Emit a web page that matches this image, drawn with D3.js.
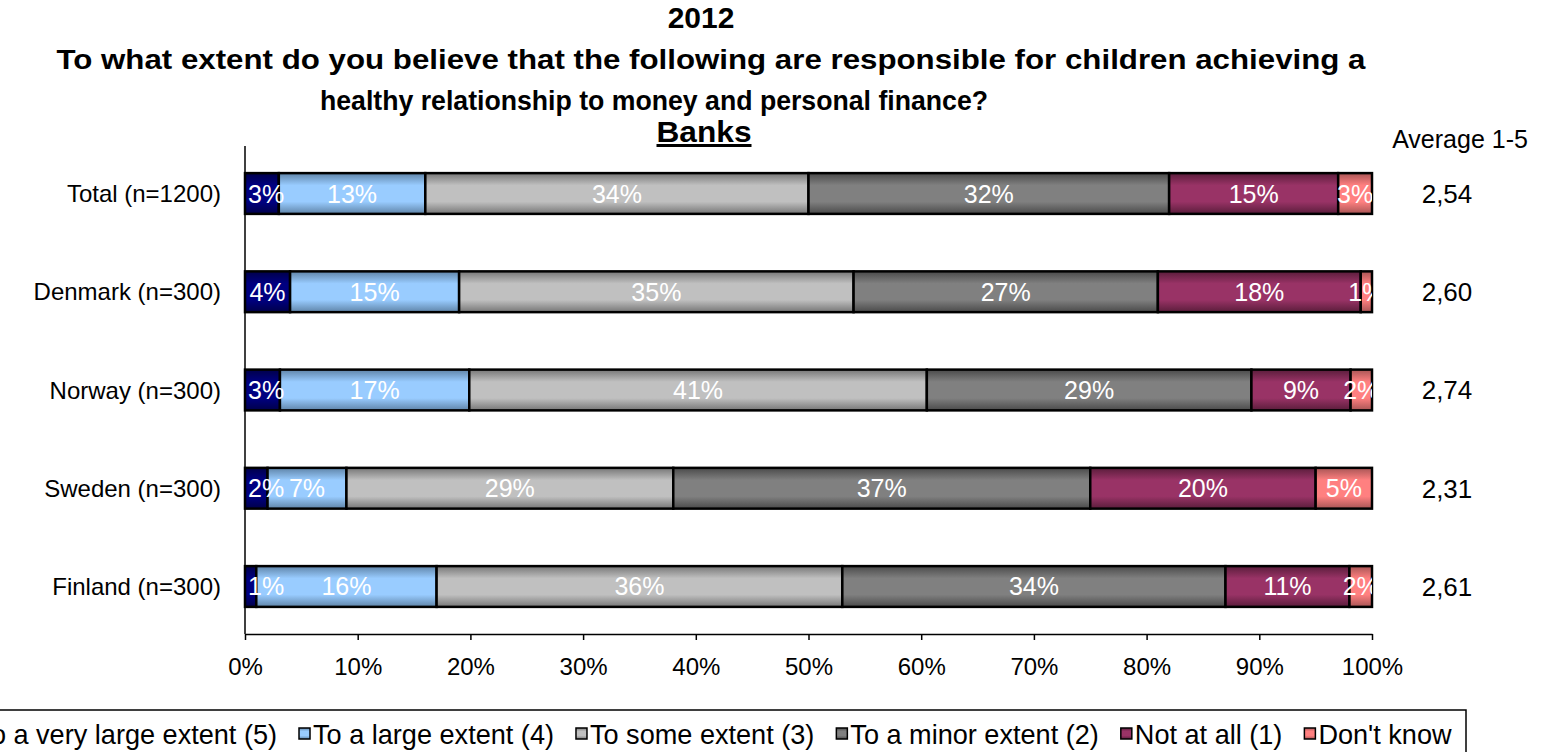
<!DOCTYPE html>
<html>
<head>
<meta charset="utf-8">
<script src="https://cdn.jsdelivr.net/npm/d3@7"></script>
<style>
  html, body { margin: 0; padding: 0; background: #fff; }
  svg { display: block; font-family: "Liberation Sans", Arial, sans-serif; }
</style>
</head>
<body>
<svg id="chart" width="1544" height="752"></svg>
<script>
// Survey answers per country, share of respondents in each answer group
const categories = ["Total (n=1200)", "Denmark (n=300)", "Norway (n=300)", "Sweden (n=300)", "Finland (n=300)"];
const seriesNames = ["To a very large extent (5)", "To a large extent (4)", "To some extent (3)", "To a minor extent (2)", "Not at all (1)", "Don't know"];
const veryLarge = [0.03, 0.04, 0.031, 0.02, 0.01];
const large     = [0.13, 0.15, 0.168, 0.07, 0.16];
const some      = [0.34, 0.35, 0.406, 0.29, 0.36];
const minor     = [0.32, 0.27, 0.288, 0.37, 0.34];
const notAtAll  = [0.15, 0.18, 0.088, 0.20, 0.11];
const dontKnow  = [0.03, 0.01, 0.019, 0.05, 0.02];
const averages  = ["2,54", "2,60", "2,74", "2,31", "2,61"];
const tickValues = [0, 0.1, 0.2, 0.3, 0.4, 0.5, 0.6, 0.7, 0.8, 0.9, 1.0];
const titleYear = "2012";
const titleQuestion = ["To what extent do you believe that the following are responsible for children achieving a", "healthy relationship to money and personal finance?"];
const subTitle = "Banks";
const averageHeader = "Average 1-5";

const seriesValues = [veryLarge, large, some, minor, notAtAll, dontKnow];
// light (middle) and dark (edge) tone for each answer group
const fills = [
  ["#000080", "#00004a"],
  ["#99ccff", "#5f84a8"],
  ["#c0c0c0", "#767676"],
  ["#808080", "#4a4a4a"],
  ["#993366", "#5a1d3b"],
  ["#ff8080", "#a85555"]
];

const svg = d3.select("#chart");
const plot = { left: 245, right: 1372, top: 146, bottom: 634 };

const rows = categories.map((c, i) => {
  const r = { category: c };
  seriesNames.forEach((s, j) => { r[s] = seriesValues[j][i]; });
  return r;
});
const stacked = d3.stack().keys(seriesNames)(rows);

const x = d3.scaleLinear().domain([0, 1]).range([plot.left, plot.right]);
const y = d3.scaleBand().domain(categories).range([plot.top, plot.bottom]).paddingInner(0.585).paddingOuter(0.276);

// gradients
const defs = svg.append("defs");
fills.forEach((f, i) => {
  const g = defs.append("linearGradient").attr("id", "grad" + i)
    .attr("x1", 0).attr("y1", 0).attr("x2", 0).attr("y2", 1);
  g.append("stop").attr("offset", "0%").attr("stop-color", f[1]);
  g.append("stop").attr("offset", "30%").attr("stop-color", f[0]);
  g.append("stop").attr("offset", "70%").attr("stop-color", f[0]);
  g.append("stop").attr("offset", "100%").attr("stop-color", f[1]);
});
defs.append("clipPath").attr("id", "plotClip")
  .append("rect").attr("x", plot.left).attr("y", plot.top)
  .attr("width", plot.right - plot.left).attr("height", plot.bottom - plot.top);

// title
const title = svg.append("g").attr("font-weight", "bold").attr("fill", "#000").attr("text-anchor", "middle");
title.append("text").attr("x", 701).attr("y", 28).attr("font-size", 30).text(titleYear);
title.append("text").attr("x", 711).attr("y", 69).attr("font-size", 27)
  .attr("textLength", 1309).attr("lengthAdjust", "spacingAndGlyphs").text(titleQuestion[0]);
title.append("text").attr("x", 654).attr("y", 110).attr("font-size", 27)
  .attr("textLength", 668).attr("lengthAdjust", "spacingAndGlyphs").text(titleQuestion[1]);
title.append("text").attr("x", 704).attr("y", 142).attr("font-size", 30)
  .attr("text-decoration", "underline")
  .attr("textLength", 95).attr("lengthAdjust", "spacingAndGlyphs").text(subTitle);

// bars
const barG = svg.append("g");
stacked.forEach((layer, j) => {
  barG.append("g").selectAll("rect").data(layer).join("rect")
    .attr("x", d => x(d[0]))
    .attr("y", d => y(d.data.category))
    .attr("width", d => x(d[1]) - x(d[0]))
    .attr("height", y.bandwidth())
    .attr("fill", `url(#grad${j})`)
    .attr("stroke", "#000")
    .attr("stroke-width", 2.5);
});

// value labels, kept from running past the left edge and clipped to the plot area
const labG = svg.append("g").attr("clip-path", "url(#plotClip)");
const pct = d3.format(".0%");
stacked.forEach((layer, j) => {
  labG.append("g").selectAll("text").data(layer).join("text")
    .attr("y", d => y(d.data.category) + y.bandwidth() / 2)
    .attr("dy", "0.36em")
    .attr("text-anchor", "start")
    .attr("font-size", 25)
    .attr("fill", "#fff")
    .text(d => pct(d[1] - d[0]))
    .attr("x", function (d) {
      const w = this.getComputedTextLength();
      const c = (x(d[0]) + x(d[1])) / 2;
      return Math.max(c - w / 2, plot.left + 3);
    });
});

// axes
const xAxis = d3.axisBottom(x).tickValues(tickValues).tickFormat(d3.format(".0%")).tickSize(6).tickSizeOuter(0);
const gx = svg.append("g").attr("transform", `translate(0,${plot.bottom})`).call(xAxis);
gx.select(".domain").attr("stroke", "#000").attr("stroke-width", 1.5);
gx.selectAll(".tick line").attr("stroke", "#000").attr("stroke-width", 1.5);
gx.selectAll(".tick text").attr("font-size", 24).attr("fill", "#000").attr("dy", "1.35em")
  .attr("font-family", "Liberation Sans, Arial, sans-serif");

svg.append("line").attr("x1", plot.left).attr("x2", plot.left)
  .attr("y1", plot.top).attr("y2", plot.bottom)
  .attr("stroke", "#000").attr("stroke-width", 1.5);

// category labels
svg.append("g").selectAll("text").data(categories).join("text")
  .attr("x", 221)
  .attr("y", d => y(d) + y.bandwidth() / 2)
  .attr("dy", "0.36em")
  .attr("text-anchor", "end")
  .attr("font-size", 24)
  .attr("fill", "#000")
  .text(d => d);

// averages
svg.append("text").attr("x", 1460).attr("y", 148).attr("text-anchor", "middle")
  .attr("font-size", 25).attr("fill", "#000").text(averageHeader);
svg.append("g").selectAll("text").data(averages).join("text")
  .attr("x", 1447)
  .attr("y", (d, i) => y(categories[i]) + y.bandwidth() / 2)
  .attr("dy", "0.36em")
  .attr("text-anchor", "middle")
  .attr("font-size", 26)
  .attr("fill", "#000")
  .text(d => d);

// legend, laid out right to left from the last entry; the box runs off the left edge
const legend = svg.append("g");
const legendTextEnd = 1452, legendBoxRight = 1466, legendTop = 710;
const items = legend.selectAll("g").data(seriesNames).join("g");
items.append("rect").attr("width", 11).attr("height", 11).attr("y", 0)
  .attr("fill", (d, i) => `url(#grad${i})`).attr("stroke", "#000").attr("stroke-width", 1.5);
items.append("text").attr("x", 14).attr("y", 6).attr("dy", "0.36em")
  .attr("font-size", 27.1).attr("fill", "#000").text(d => d);
const gap = 22;
const widths = [];
items.each(function () { widths.push(this.getBBox().width); });
const totalW = d3.sum(widths) + gap * (widths.length - 1);
let cx = legendTextEnd - totalW;
items.attr("transform", (d, i) => {
  const t = `translate(${cx},${legendTop + 18})`;
  cx += widths[i] + gap;
  return t;
});
const legendLeft = Math.min(-2, legendTextEnd - totalW - 10);
legend.insert("rect", ":first-child")
  .attr("x", legendLeft).attr("y", legendTop)
  .attr("width", legendBoxRight - legendLeft).attr("height", 60)
  .attr("fill", "#fff").attr("stroke", "#000").attr("stroke-width", 1.5);
</script>
</body>
</html>
